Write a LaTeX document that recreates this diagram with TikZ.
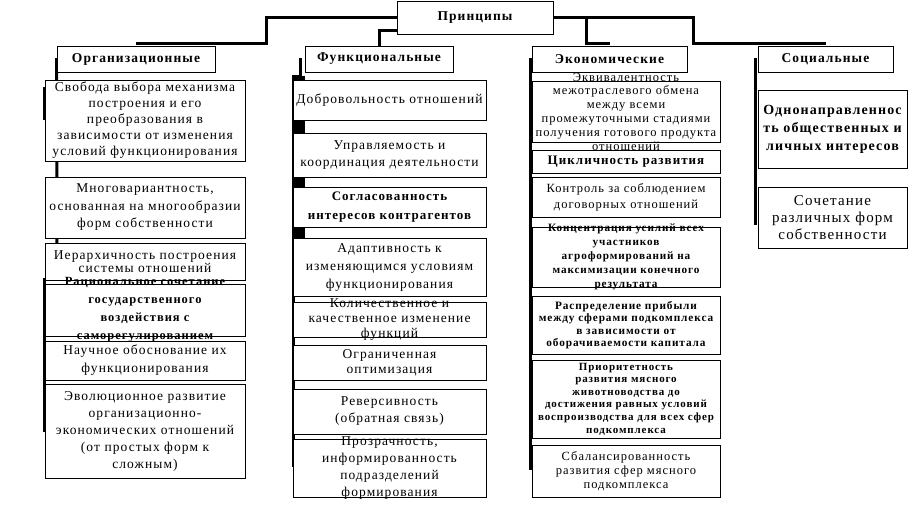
\documentclass[tikz,border=0pt]{standalone}
\usepackage{fontspec}
\setmainfont{Liberation Serif}[LetterSpace=8]
\newcommand\myfs[2]{\fontsize{#1}{#2}\selectfont}
\newcommand\mybox[7]{%
  \node[box, minimum width={(#4-#2)*1pt}, minimum height={(#5-#3)*1pt}] (#1) at ({(#2+#4)/2},{(#3+#5)/2}) {};
  \node[txt, font=#6] (#1t) at (#1.center) {#7};}
\begin{document}
\begin{tikzpicture}[x=1pt,y=-1pt,
  box/.style={draw, line width=0.9pt, fill=white, inner sep=0pt},
  txt/.style={align=center, inner sep=0pt},
  conn/.style={line width=3pt}]
\useasboundingbox (0,0) rectangle (917,514);
% top and header boxes (positions for connectors)
\node[box, minimum width=156pt, minimum height=33pt] (prin) at (475,17.5) {};
\node[box, minimum width=158pt, minimum height=26pt] (org) at (136,59) {};
\node[box, minimum width=148pt, minimum height=26pt] (func) at (379,59) {};
\node[box, minimum width=155pt, minimum height=26pt] (econ) at (609.5,59) {};
\node[box, minimum width=135pt, minimum height=26pt] (soc) at (825.5,59) {};
% connectors
\draw[conn] (prin.west) -| (266,43) -- (org.north |- 0,43);
\draw[conn] (prin.west |- 0,30) -| (func.north);
\draw[conn] (prin.east) -| (693,43) -- (soc.north |- 0,43);
\draw[conn] (586,17.5) -- (586,43) -- (econ.north |- 0,43);
% column trunks
\draw[conn] (org.west |- 0,58) -- (57,245);
\draw[conn] (44,87) -- (44,120);
\draw[conn] (44,278) -- (44,432);
\draw[line width=10pt] (300,76) -- (300,238);
\draw[conn] (300,58) -- (300,76) -- (293,76) -- (293,467);
\draw[conn] (530,58) -- (530,470);
\draw[conn] (755.5,58) -- (755.5,225);
% top boxes redrawn on top of the trunks
\node[box, minimum width=156pt, minimum height=33pt] (prin2) at (prin) {};
\node[txt, font=\myfs{13.5}{16}\bfseries] (print) at (prin) {Принципы};
\node[box, minimum width=158pt, minimum height=26pt] (org2) at (org) {};
\node[txt, font=\myfs{13.5}{16}\bfseries] (orgt) at (org) {Организационные};
\node[box, minimum width=148pt, minimum height=26pt] (func2) at (func) {};
\node[txt, font=\myfs{13.5}{16}\bfseries] (funct) at (func) {Функциональные};
\node[box, minimum width=155pt, minimum height=26pt] (econ2) at (econ) {};
\node[txt, font=\myfs{13.5}{16}\bfseries] (econt) at (econ) {Экономические};
\node[box, minimum width=135pt, minimum height=26pt] (soc2) at (soc) {};
\node[txt, font=\myfs{13.5}{16}\bfseries] (soct) at (soc) {Социальные};
% column 1
\mybox{a1}{45}{80}{245}{161}{\myfs{13.5}{16}}{Свобода выбора механизма\\построения и его\\преобразования в\\зависимости от изменения\\условий функционирования}
\mybox{a2}{45}{177}{245}{238}{\myfs{13.5}{17.5}}{Многовариантность,\\основанная на многообразии\\форм собственности}
\mybox{a3}{45}{243}{245}{280}{\myfs{13.5}{13}}{Иерархичность построения\\системы отношений}
\mybox{a4}{45}{284}{245}{336}{\myfs{12.5}{18}\bfseries}{Рациональное сочетание\\государственного\\воздействия с\\саморегулированием}
\mybox{a5}{45}{341}{245}{380}{\myfs{13.5}{18}}{Научное обоснование их\\функционирования}
\mybox{a6}{45}{384}{245}{478}{\myfs{13.5}{17}}{Эволюционное развитие\\организационно-\\экономических отношений\\(от простых форм к\\сложным)}
% column 2
\mybox{b1}{293}{80}{486}{120}{\myfs{13.5}{16}}{Добровольность отношений}
\mybox{b2}{293}{133}{486}{177}{\myfs{13.5}{17}}{Управляемость и\\координация деятельности}
\mybox{b3}{293}{187}{486}{227}{\myfs{13}{19}\bfseries}{Согласованность\\интересов контрагентов}
\mybox{b4}{293}{238}{486}{296}{\myfs{13.5}{18}}{Адаптивность к\\изменяющимся условиям\\функционирования}
\mybox{b5}{293}{302}{486}{337}{\myfs{13.5}{15}}{Количественное и\\качественное изменение\\функций}
\mybox{b6}{293}{345}{486}{380}{\myfs{13.5}{15}}{Ограниченная\\оптимизация}
\mybox{b7}{293}{389}{486}{434}{\myfs{13.5}{17}}{Реверсивность\\(обратная связь)}
\mybox{b8}{293}{439}{486}{497}{\myfs{13.5}{17}}{Прозрачность,\\информированность\\подразделений\\формирования}
% column 3
\mybox{c1}{532}{81}{720}{142}{\myfs{12.5}{13.8}}{Эквивалентность\\межотраслевого обмена\\между всеми\\промежуточными стадиями\\получения готового продукта\\отношений}
\mybox{c2}{532}{150}{720}{173}{\myfs{13}{15}\bfseries}{Цикличность развития}
\mybox{c3}{532}{177}{720}{217}{\myfs{12.5}{16}}{Контроль за соблюдением\\договорных отношений}
\mybox{c4}{532}{227}{720}{287}{\myfs{11.2}{14}\bfseries}{Концентрация усилий всех\\участников\\агроформирований на\\максимизации конечного\\результата}
\mybox{c5}{532}{296}{720}{354}{\myfs{11.3}{12.5}\bfseries}{Распределение прибыли\\между сферами подкомплекса\\в зависимости от\\оборачиваемости капитала}
\mybox{c6}{532}{360}{720}{438}{\myfs{11}{12.6}\bfseries}{Приоритетность\\развития мясного\\животноводства до\\достижения равных условий\\воспроизводства для всех сфер\\подкомплекса}
\mybox{c7}{532}{445}{720}{497}{\myfs{12.5}{14}}{Сбалансированность\\развития сфер мясного\\подкомплекса}
% column 4
\mybox{d1}{758}{90}{907}{168}{\myfs{14}{18}\bfseries}{Однонаправленнос\\ть общественных и\\личных интересов}
\mybox{d2}{758}{187}{907}{248}{\myfs{15}{17}}{Сочетание\\различных форм\\собственности}
\end{tikzpicture}
\end{document}
